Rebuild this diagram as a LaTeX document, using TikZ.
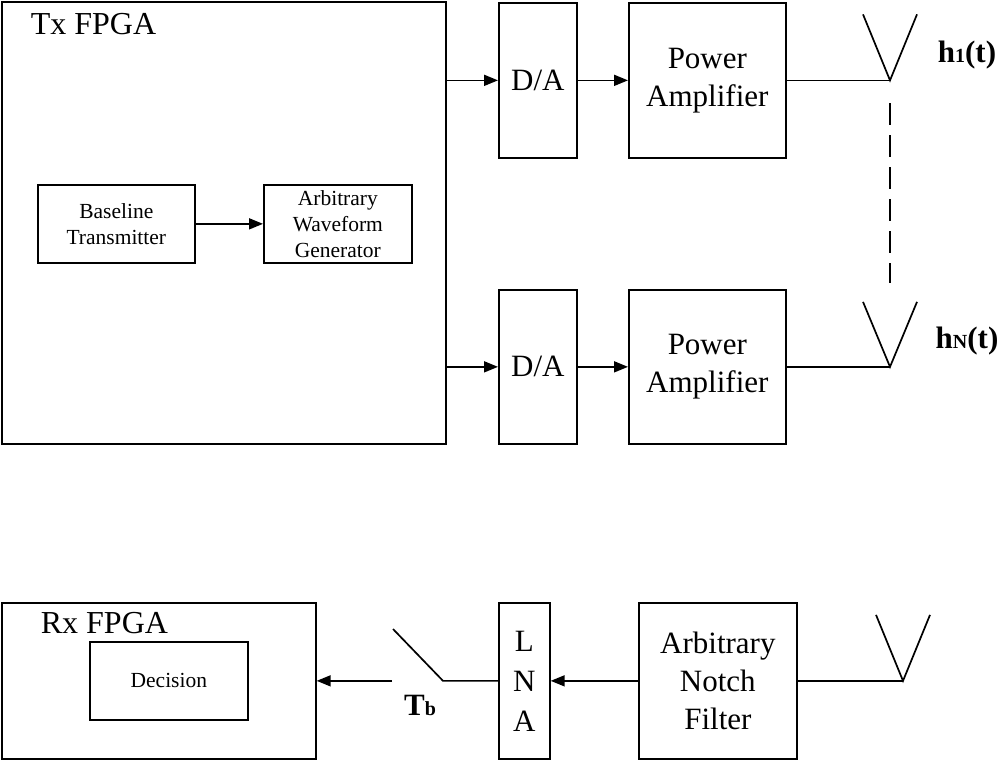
\documentclass[tikz,border=0pt]{standalone}
\usepackage{fontspec}
\setmainfont{Liberation Serif}
\usetikzlibrary{arrows.meta}
\begin{document}
\begin{tikzpicture}[x=1pt,y=-1pt, line width=1.7pt,
  blk/.style={draw, inner sep=0pt, anchor=north west, align=center, font=\fontsize{31}{38}\selectfont},
  sblk/.style={blk, font=\fontsize{21.5}{26}\selectfont},
  lbl/.style={inner sep=0pt, font=\fontsize{32}{38}\selectfont},
  bl/.style={inner sep=0pt, font=\bfseries\fontsize{31}{38}\selectfont},
  arr/.style={-{Triangle[length=14pt,width=11pt]}}]
\useasboundingbox (0,0) rectangle (1000,760);
% Tx side
\node[blk, minimum width=444pt, minimum height=442pt] (tx) at (1,1) {};
\node[lbl, anchor=base west] (txl) at (30,35) {Tx FPGA};
\node[sblk, minimum width=157pt, minimum height=78pt] (bt) at (37,184) {Baseline\\Transmitter};
\node[sblk, minimum width=148pt, minimum height=78pt] (awg) at (263,184) {Arbitrary\\Waveform\\Generator};
\draw[arr] (bt.east) -- (awg.west);
\node[blk, minimum width=78pt, minimum height=155pt] (da1) at (498,2) {D/A};
\node[blk, minimum width=157pt, minimum height=155pt] (pa1) at (628,2) {Power\\Amplifier};
\node[blk, minimum width=78pt, minimum height=154pt] (da2) at (498,289) {D/A};
\node[blk, minimum width=157pt, minimum height=154pt] (pa2) at (628,289) {Power\\Amplifier};
\draw[arr] (tx.east |- da1.west) -- (da1.west);
\draw[arr] (da1.east) -- (pa1.west);
\draw[arr] (tx.east |- da2.west) -- (da2.west);
\draw[arr] (da2.east) -- (pa2.west);
\coordinate (d1) at (890,103);
\coordinate (d2) at (890,283);
\coordinate (a1) at (pa1.east -| d1);
\coordinate (a2) at (pa2.east -| d1);
\draw (pa1.east) -- (a1);
\draw (a1) ++(-27,-66) -- (a1) -- ++(27,-66);
\draw (pa2.east) -- (a2);
\draw (a2) ++(-27,-65) -- (a2) -- ++(27,-65);
\draw[dash pattern=on 22pt off 10pt] (d1) -- (d2);
\node[bl] (h1) at (967,55) {h{\fontsize{20}{20}\selectfont 1}(t)};
\node[bl] (hN) at (967,341) {h{\fontsize{20}{20}\selectfont N}(t)};
% Rx side
\node[blk, minimum width=314pt, minimum height=156pt] (rx) at (1,602) {};
\node[lbl, anchor=base west] (rxl) at (40,633) {Rx FPGA};
\node[sblk, minimum width=158pt, minimum height=78pt] (dec) at (89,641) {Decision};
\node[blk, minimum width=51pt, minimum height=156pt, font=\fontsize{31}{40}\selectfont] (lna) at (498,602) {L\\N\\A};
\node[blk, minimum width=158pt, minimum height=156pt] (anf) at (638,602) {Arbitrary\\Notch\\Filter};
\coordinate (ax) at (903,0);
\coordinate (a3) at (anf.east -| ax);
\draw (anf.east) -- (a3);
\draw (a3) ++(-27,-66) -- (a3) -- ++(27,-66);
\draw[arr] (anf.west) -- (lna.east);
\coordinate (sx1) at (443,0);
\coordinate (sx2) at (392,0);
\coordinate (sw1) at (lna.west -| sx1);
\coordinate (sw2) at (393,629);
\coordinate (sw3) at (lna.west -| sx2);
\draw (lna.west) -- (sw1) -- (sw2);
\draw[arr] (sw3) -- (rx.east |- sw3);
\node[bl] (tb) at (420,705) {T{\fontsize{20}{20}\selectfont b}};
\end{tikzpicture}
\end{document}
